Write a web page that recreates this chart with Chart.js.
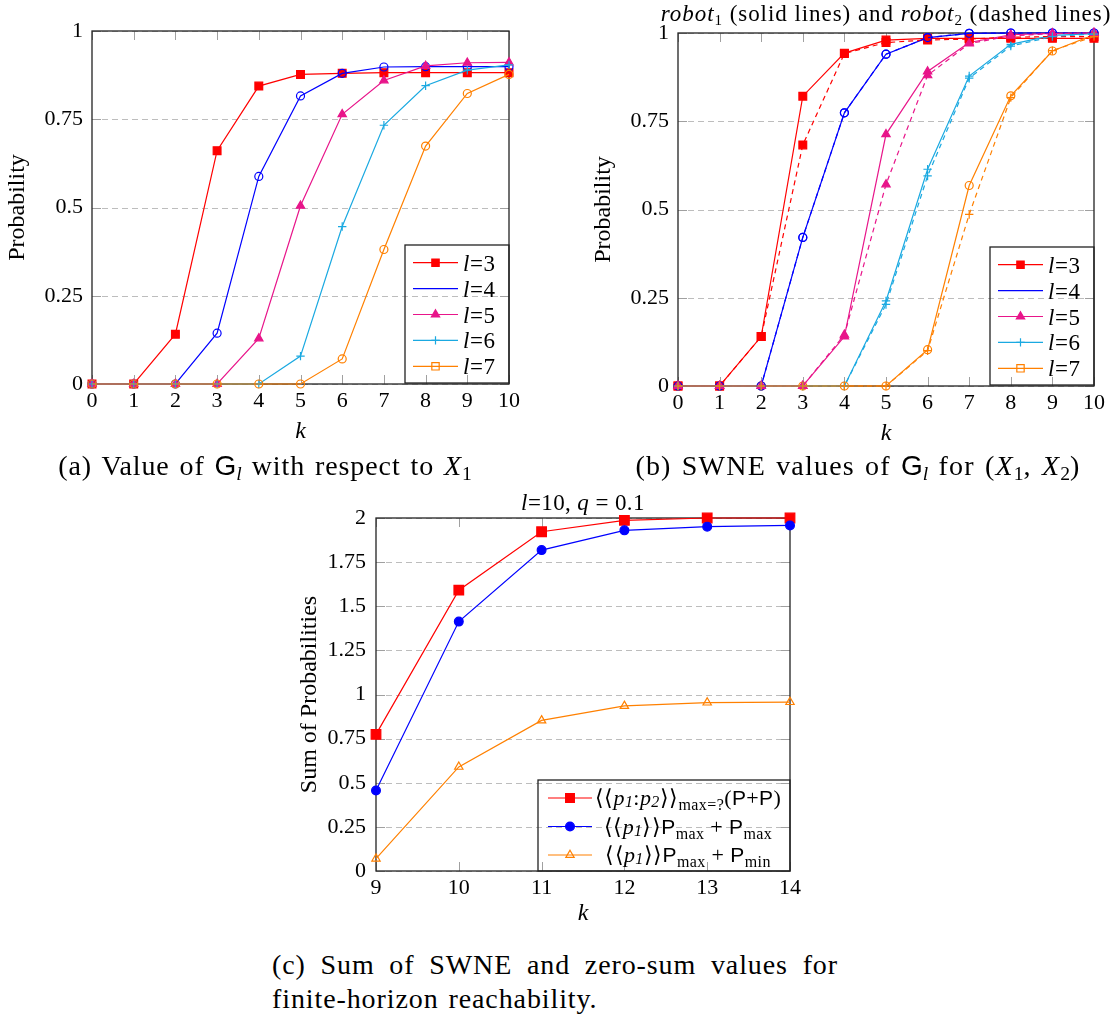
<!DOCTYPE html>
<html>
<head>
<meta charset="utf-8">
<script src="https://cdn.jsdelivr.net/npm/chart.js@4.4.1/dist/chart.umd.min.js"></script>
<style>
html,body{margin:0;padding:0;background:#fff;}
#page{position:relative;width:1114px;height:1016px;overflow:hidden;background:#fff;font-family:"Liberation Serif","Times New Roman",serif;color:#000;}
#page canvas{position:absolute;}
.cap{position:absolute;font-size:28px;line-height:30px;white-space:nowrap;letter-spacing:0.9px;word-spacing:2px;}
.sf{font-family:"Liberation Sans",Arial,sans-serif;letter-spacing:0;}
.sb{font-size:0.7em;vertical-align:-0.28em;line-height:0;letter-spacing:0;}
</style>
</head>
<body>
<div id="page">
  <canvas id="chartA" width="560" height="450" style="left:0;top:0;width:560px;height:450px"></canvas>
  <canvas id="chartB" width="554" height="450" style="left:560px;top:0;width:554px;height:450px"></canvas>
  <canvas id="chartC" width="560" height="460" style="left:260px;top:480px;width:560px;height:460px"></canvas>
  <div class="cap" style="left:-7px;width:544px;top:451px;text-align:center">(a) Value of <span class="sf">G</span><span class="sb"><i>l</i></span> with respect to <i>X</i><span class="sb">1</span></div>
  <div class="cap" style="left:586px;width:544px;top:451px;text-align:center;letter-spacing:1.2px">(b) SWNE values of <span class="sf">G</span><span class="sb"><i>l</i></span> for (<i>X</i><span class="sb">1</span>, <i>X</i><span class="sb">2</span>)</div>
  <div class="cap" style="left:272px;top:948px;width:566px;line-height:34px;">
    <div style="text-align:justify;text-align-last:justify">(c) Sum of SWNE and zero-sum values for</div>
    <div>finite-horizon reachability.</div>
  </div>
</div>
<script>
// ---------------- DATA ----------------
// (a) Value of G_l with respect to X_1
const kA = [0, 1, 2, 3, 4, 5, 6, 7, 8, 9, 10];
const levels = [3, 4, 5, 6, 7];
const probTicks = [0, 0.25, 0.5, 0.75, 1];
const a_l3 = [0, 0, 0.141, 0.661, 0.844, 0.877, 0.880, 0.882, 0.882, 0.882, 0.882];
const a_l4 = [0, 0, 0, 0.144, 0.588, 0.816, 0.880, 0.898, 0.899, 0.899, 0.899];
const a_l5 = [0, 0, 0, 0, 0.129, 0.505, 0.764, 0.860, 0.901, 0.910, 0.911];
const a_l6 = [0, 0, 0, 0, 0, 0.079, 0.446, 0.733, 0.845, 0.889, 0.904];
const a_l7 = [0, 0, 0, 0, 0, 0, 0.071, 0.381, 0.674, 0.823, 0.877];

// (b) SWNE values of G_l for (X_1, X_2): robot1 solid, robot2 dashed
const kB = [0, 1, 2, 3, 4, 5, 6, 7, 8, 9, 10];
const b_l3_r1 = [0, 0, 0.140, 0.821, 0.943, 0.980, 0.985, 0.985, 0.985, 0.985, 0.985];
const b_l3_r2 = [0, 0, 0.140, 0.683, 0.942, 0.973, 0.980, 0.983, 0.988, 0.990, 0.990];
const b_l4_r1 = [0, 0, 0, 0.421, 0.774, 0.940, 0.987, 0.999, 1.0, 1.0, 1.0];
const b_l4_r2 = [0, 0, 0, 0.421, 0.774, 0.940, 0.987, 0.999, 1.0, 1.0, 1.0];
const b_l5_r1 = [0, 0, 0, 0, 0.140, 0.713, 0.891, 0.973, 0.995, 0.999, 1.0];
const b_l5_r2 = [0, 0, 0, 0, 0.145, 0.571, 0.880, 0.970, 0.992, 0.998, 1.0];
const b_l6_r1 = [0, 0, 0, 0, 0, 0.241, 0.614, 0.878, 0.968, 0.993, 0.998];
const b_l6_r2 = [0, 0, 0, 0, 0, 0.231, 0.595, 0.872, 0.963, 0.990, 0.997];
const b_l7_r1 = [0, 0, 0, 0, 0, 0, 0.103, 0.568, 0.822, 0.949, 0.995];
const b_l7_r2 = [0, 0, 0, 0, 0, 0, 0.100, 0.486, 0.817, 0.950, 0.990];

// (c) Sum of SWNE and zero-sum values, l=10, q=0.1
const kC = [9, 10, 11, 12, 13, 14];
const sumTicks = [0, 0.25, 0.5, 0.75, 1, 1.25, 1.5, 1.75, 2];
const c_swne = [0.774, 1.591, 1.922, 1.987, 2.0, 2.0];
const c_maxmax = [0.456, 1.413, 1.818, 1.930, 1.951, 1.958];
const c_maxmin = [0.070, 0.590, 0.853, 0.935, 0.954, 0.957];

// ---------------- STYLE ----------------
const FONT = '"Liberation Serif", "Times New Roman", serif';
const SANS = '"Liberation Sans", Arial, sans-serif';
const RED = '#ff0000', BLUE = '#0000ff', MAG = '#e8158a', CYAN = '#1aa9e1', ORANGE = '#ff8000';
Chart.defaults.font.family = FONT;
Chart.defaults.color = '#000';

function pts(xs, ys) { return xs.map((x, i) => ({ x: x, y: ys[i] })); }

function series(label, xs, ys, color, style, radius, filled, dashed, idx) {
  return {
    label: label, data: pts(xs, ys),
    borderColor: color, backgroundColor: color, borderWidth: 1.2,
    borderDash: dashed ? [5, 4] : [],
    pointStyle: style, pointRadius: radius, pointHoverRadius: radius,
    pointBorderWidth: 1.2, pointBorderColor: color,
    pointBackgroundColor: filled ? color : 'rgba(0,0,0,0)',
    tension: 0, fill: false, clip: false, order: -idx
  };
}

function drawRich(ctx, segs, x, y, align, base, spacing) {
  ctx.save();
  if ('letterSpacing' in ctx) ctx.letterSpacing = (spacing || 0) + 'px';
  const fonts = segs.map(s => (s.it ? 'italic ' : '') + (s.sz || base) + 'px ' + (s.fam || FONT));
  let total = 0;
  const ws = segs.map((s, i) => { ctx.font = fonts[i]; const w = ctx.measureText(s.t).width; total += w; return w; });
  let cx = align === 'center' ? x - total / 2 : (align === 'right' ? x - total : x);
  ctx.textAlign = 'left'; ctx.textBaseline = 'alphabetic'; ctx.fillStyle = '#000';
  segs.forEach((s, i) => { ctx.font = fonts[i]; ctx.fillText(s.t, cx, y + (s.dy || 0)); cx += ws[i]; });
  ctx.restore();
}

function drawMarker(ctx, style, x, y, r, color, filled) {
  if (!style) return;
  ctx.save();
  ctx.strokeStyle = color; ctx.fillStyle = color; ctx.lineWidth = 1.2; ctx.setLineDash([]);
  ctx.beginPath();
  if (style === 'rect') { const s = r * Math.SQRT1_2; ctx.rect(x - s, y - s, 2 * s, 2 * s); }
  else if (style === 'circle') { ctx.arc(x, y, r, 0, Math.PI * 2); }
  else if (style === 'triangle') {
    let rad = 0;
    ctx.moveTo(x + Math.sin(rad) * r, y - Math.cos(rad) * r); rad += 2 * Math.PI / 3;
    ctx.lineTo(x + Math.sin(rad) * r, y - Math.cos(rad) * r); rad += 2 * Math.PI / 3;
    ctx.lineTo(x + Math.sin(rad) * r, y - Math.cos(rad) * r); ctx.closePath();
  }
  else if (style === 'cross') { ctx.moveTo(x, y - r); ctx.lineTo(x, y + r); ctx.moveTo(x - r, y); ctx.lineTo(x + r, y); }
  if (filled && style !== 'cross') ctx.fill();
  ctx.stroke();
  ctx.restore();
}

function framePlugin(o) {
  return {
    id: 'frame',
    beforeDatasetsDraw(chart) {
      const c = chart.ctx, a = chart.chartArea, xs = chart.scales.x, ys = chart.scales.y;
      c.save();
      c.lineWidth = 1; c.strokeStyle = '#bdbdbd'; c.setLineDash([6, 4]);
      o.yTicks.forEach(v => {
        const py = Math.round(ys.getPixelForValue(v)) + 0.5;
        c.beginPath(); c.moveTo(a.left, py); c.lineTo(a.right, py); c.stroke();
      });
      c.setLineDash([]);
      c.strokeStyle = '#a0a0a0';
      const TL = 9;
      o.xTicks.forEach(v => {
        const px = Math.round(xs.getPixelForValue(v)) + 0.5;
        c.beginPath(); c.moveTo(px, a.bottom); c.lineTo(px, a.bottom - TL);
        c.moveTo(px, a.top); c.lineTo(px, a.top + TL); c.stroke();
      });
      o.yTicks.forEach(v => {
        const py = Math.round(ys.getPixelForValue(v)) + 0.5;
        c.beginPath(); c.moveTo(a.left, py); c.lineTo(a.left + TL, py);
        c.moveTo(a.right, py); c.lineTo(a.right - TL, py); c.stroke();
      });
      c.strokeStyle = '#222'; c.lineWidth = 1.3;
      c.strokeRect(a.left, a.top, a.right - a.left, a.bottom - a.top);
      c.restore();
    },
    afterDatasetsDraw(chart) {
      const c = chart.ctx, a = chart.chartArea, L = o.legend;
      c.save();
      const right = a.right - L.right, bottom = a.bottom - L.bottom;
      const left = right - L.w, top = bottom - L.h;
      c.strokeStyle = '#222'; c.lineWidth = 1.3;
      c.strokeRect(left, top, L.w, L.h);
      L.items.forEach((it, i) => {
        const y = top + L.rowY0 + i * L.rowDy;
        c.strokeStyle = it.color; c.lineWidth = 1.2; c.setLineDash([]);
        c.beginPath(); c.moveTo(left + L.lineX0, y); c.lineTo(left + L.lineX1, y); c.stroke();
        drawMarker(c, it.style, left + (L.lineX0 + L.lineX1) / 2, y, it.r, it.color, it.filled);
        drawRich(c, it.segs, left + L.textX, y + L.textDy, L.align, L.size, L.spacing);
      });
      c.restore();
    },
    afterDraw(chart) {
      if (!o.title) return;
      const c = chart.ctx, a = chart.chartArea;
      drawRich(c, o.title.segs, (a.left + a.right) / 2, o.title.y, 'center', o.title.size, o.title.spacing);
    }
  };
}

function makeChart(id, o) {
  const cv = document.getElementById(id);
  const W = cv.width, H = cv.height;
  const tickFont = { family: FONT, size: 22, lineHeight: 1.2 };
  return new Chart(cv, {
    type: 'line',
    data: { datasets: o.datasets },
    options: {
      responsive: false, maintainAspectRatio: false, animation: false, devicePixelRatio: 1,
      layout: { padding: { left: 0, top: o.area.t, right: W - o.area.r, bottom: 0 } },
      plugins: { legend: { display: false }, tooltip: { enabled: false }, title: { display: false } },
      scales: {
        x: {
          type: 'linear', min: o.xMin, max: o.xMax, offset: false,
          afterBuildTicks: s => { s.ticks = o.xTicks.map(v => ({ value: v })); },
          afterFit: s => { s.height = H - o.area.b; s.paddingLeft = 0; s.paddingRight = 0; },
          grid: { display: false, drawTicks: false, tickLength: 0 }, border: { display: false },
          ticks: { autoSkip: false, maxRotation: 0, minRotation: 0, padding: 4, color: '#000', font: tickFont, callback: v => String(v) },
          title: { display: true, text: 'k', color: '#000', font: { family: FONT, size: 24, style: 'italic', lineHeight: 1.2 }, padding: { top: 0, bottom: o.kPad } }
        },
        y: {
          type: 'linear', min: o.yMin, max: o.yMax,
          afterBuildTicks: s => { s.ticks = o.yTicks.map(v => ({ value: v })); },
          afterFit: s => { s.width = o.area.l; s.paddingTop = 0; s.paddingBottom = 0; },
          grid: { display: false, drawTicks: false, tickLength: 0 }, border: { display: false },
          ticks: { autoSkip: false, padding: o.yTickPad, color: '#000', font: tickFont, callback: v => String(v) },
          title: { display: true, text: o.yTitle, color: '#000', font: { family: FONT, size: 24, lineHeight: 1.2 }, padding: { top: o.yTitlePad, bottom: 0 } }
        }
      }
    },
    plugins: [framePlugin(o)]
  });
}

function lvlSegs(l) { return [{ t: 'l', it: true }, { t: '=' + l }]; }
const lvlLegend = {
  w: 104, h: 138, right: 0, bottom: 1, rowY0: 17.7, rowDy: 25.9, lineX0: 8, lineX1: 53, textX: 58, textDy: 8, align: 'left', size: 23, spacing: 0.6,
  items: [
    { color: RED, style: 'rect', r: 5.2, filled: true, segs: lvlSegs(levels[0]) },
    { color: BLUE, style: null, r: 0, filled: false, segs: lvlSegs(levels[1]) },
    { color: MAG, style: 'triangle', r: 4.8, filled: true, segs: lvlSegs(levels[2]) },
    { color: CYAN, style: 'cross', r: 4.2, filled: false, segs: lvlSegs(levels[3]) },
    { color: ORANGE, style: 'rect', r: 5.2, filled: false, segs: lvlSegs(levels[4]) }
  ]
};

// ---------------- CHART A ----------------
makeChart('chartA', {
  area: { l: 92, t: 31, r: 509, b: 384 },
  xMin: 0, xMax: 10, xTicks: kA, yMin: 0, yMax: 1, yTicks: probTicks,
  kPad: 4, yTickPad: 9, yTitlePad: 3, yTitle: 'Probability',
  datasets: [
    series('l=3', kA, a_l3, RED, 'rect', 5.5, true, false, 0),
    series('l=4', kA, a_l4, BLUE, 'circle', 4, false, false, 1),
    series('l=5', kA, a_l5, MAG, 'triangle', 4.8, true, false, 2),
    series('l=6', kA, a_l6, CYAN, 'cross', 4.2, false, false, 3),
    series('l=7', kA, a_l7, ORANGE, 'circle', 4, false, false, 4)
  ],
  legend: lvlLegend
});

// ---------------- CHART B ----------------
makeChart('chartB', {
  area: { l: 118, t: 33, r: 534, b: 386 },
  xMin: 0, xMax: 10, xTicks: kB, yMin: 0, yMax: 1, yTicks: probTicks,
  kPad: 2, yTickPad: 9, yTitlePad: 29, yTitle: 'Probability',
  datasets: [
    series('robot1 l=3', kB, b_l3_r1, RED, 'rect', 5.5, true, false, 0),
    series('robot1 l=4', kB, b_l4_r1, BLUE, 'circle', 4, false, false, 1),
    series('robot1 l=5', kB, b_l5_r1, MAG, 'triangle', 4.8, true, false, 2),
    series('robot1 l=6', kB, b_l6_r1, CYAN, 'cross', 4.2, false, false, 3),
    series('robot1 l=7', kB, b_l7_r1, ORANGE, 'circle', 4, false, false, 4),
    series('robot2 l=3', kB, b_l3_r2, RED, 'rect', 5.5, true, true, 5),
    series('robot2 l=4', kB, b_l4_r2, BLUE, 'circle', 4, false, true, 6),
    series('robot2 l=5', kB, b_l5_r2, MAG, 'triangle', 4.8, true, true, 7),
    series('robot2 l=6', kB, b_l6_r2, CYAN, 'cross', 4.2, false, true, 8),
    series('robot2 l=7', kB, b_l7_r2, ORANGE, 'cross', 4.2, false, true, 9)
  ],
  legend: lvlLegend,
  title: {
    y: 21, size: 23, spacing: 0.95,
    segs: [{ t: 'robot', it: true }, { t: '1', sz: 15, dy: 4 }, { t: ' (solid lines) and ' },
           { t: 'robot', it: true }, { t: '2', sz: 15, dy: 4 }, { t: ' (dashed lines)' }]
  }
});

// ---------------- CHART C ----------------
const angL = '\u27E8\u27E8', angR = '\u27E9\u27E9';
const subP = (txt) => ({ t: txt, sz: 16, dy: 5 });
const sansP = { t: 'P', fam: SANS, sz: 21 };
makeChart('chartC', {
  area: { l: 116, t: 38, r: 530, b: 391 },
  xMin: 9, xMax: 14, xTicks: kC, yMin: 0, yMax: 2, yTicks: sumTicks,
  kPad: 12, yTickPad: 10, yTitlePad: 35, yTitle: 'Sum of Probabilities',
  datasets: [
    series('SWNE P+P', kC, c_swne, RED, 'rect', 6.8, true, false, 0),
    series('Pmax+Pmax', kC, c_maxmax, BLUE, 'circle', 4.4, true, false, 1),
    series('Pmax+Pmin', kC, c_maxmin, ORANGE, 'triangle', 4.8, false, false, 2)
  ],
  legend: {
    w: 252, h: 91, right: 0, bottom: 0, rowY0: 18, rowDy: 28.5, lineX0: 10, lineX1: 54, textX: 150, textDy: 7, align: 'center', size: 22, spacing: 0.4,
    items: [
      { color: RED, style: 'rect', r: 6.2, filled: true,
        segs: [{ t: angL }, { t: 'p', it: true }, { t: '1', it: true, sz: 16, dy: 2 }, { t: ':' }, { t: 'p', it: true }, { t: '2', it: true, sz: 16, dy: 2 }, { t: angR },
               subP('max=?'), { t: '(' }, sansP, { t: '+' }, sansP, { t: ')' }] },
      { color: BLUE, style: 'circle', r: 4.4, filled: true,
        segs: [{ t: angL }, { t: 'p', it: true }, { t: '1', it: true, sz: 16, dy: 2 }, { t: angR },
               sansP, subP('max'), { t: ' + ' }, sansP, subP('max')] },
      { color: ORANGE, style: 'triangle', r: 4.8, filled: false,
        segs: [{ t: angL }, { t: 'p', it: true }, { t: '1', it: true, sz: 16, dy: 2 }, { t: angR },
               sansP, subP('max'), { t: ' + ' }, sansP, subP('min')] }
    ]
  },
  title: {
    y: 30, size: 23, spacing: 0.4,
    segs: [{ t: 'l', it: true }, { t: '=10, ' }, { t: 'q', it: true }, { t: ' = 0.1' }]
  }
});
</script>
</body>
</html>
